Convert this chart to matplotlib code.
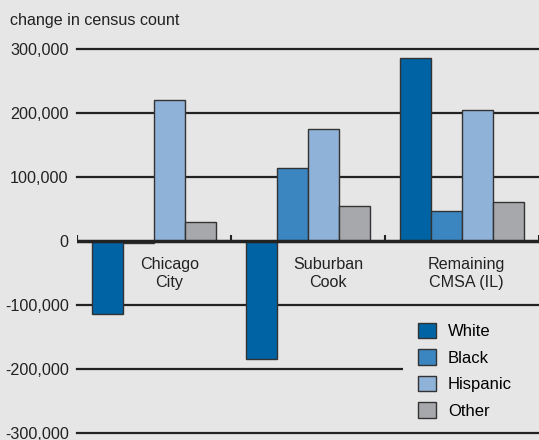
import numpy as np
import matplotlib.pyplot as plt

regions = ['Chicago\nCity', 'Suburban\nCook', 'Remaining\nCMSA (IL)']
groups = ['White', 'Black', 'Hispanic', 'Other']
white = [-114000, -185000, 286000]
black = [-3000, 114000, 47000]
hispanic = [220000, 175000, 204000]
other = [29000, 55000, 61000]
colors = ['#0063a3', '#3b86c1', '#8fb2d9', '#a7a8ac']
yticks = [-300000, -200000, -100000, 0, 100000, 200000, 300000]
label_shift = [0.1, 0.13, 0.03]  # labels sit a bit right of group centres

plt.rcParams['font.family'] = ['Liberation Sans', 'DejaVu Sans']
bg = '#e6e6e6'
ink = '#222222'

fig = plt.figure(figsize=(5.39, 4.40), dpi=100, facecolor=bg)
ax = fig.add_axes([77/539, 7/440, 462/539, 384/440])
ax.set_facecolor(bg)

x = np.arange(len(regions))
w = 0.2
for i, (vals, c, name) in enumerate(zip([white, black, hispanic, other], colors, groups)):
    ax.bar(x + (i - 1.5)*w, vals, w, color=c, edgecolor='#333333', lw=1,
           label=name, zorder=3)

for t in yticks:
    if t != 0:
        # bottom line stays on top of the legend box
        ax.axhline(t, color=ink, lw=1.6, zorder=6 if t == yticks[0] else 1,
                   clip_on=False)
ax.axhline(0, color=ink, lw=2.5, zorder=4)
ax.vlines(np.arange(len(regions) + 1) - 0.5, 0, 9000, color=ink, lw=1.5, zorder=4)

ax.set_xlim(-0.5, len(regions) - 0.5)
ax.set_ylim(-300000, 300000)
ax.set_xticks([])
ax.set_yticks(yticks)
ax.set_yticklabels([f'{v:,}' for v in yticks], fontsize=11.6, color=ink)
ax.tick_params(axis='y', length=0, pad=6)
for s in ax.spines.values():
    s.set_visible(False)

for xi, r, dx in zip(x, regions, label_shift):
    ax.text(xi + dx, -24500, r, ha='center', va='top', fontsize=11.6,
            linespacing=1.3, color=ink)

fig.text(10/539, 1 - 21/440, 'change in census count', ha='left', va='center',
         fontsize=11.6, color=ink)

leg_top = 1 - 308/440
leg = ax.legend(loc='upper left', bbox_to_anchor=(403/539, leg_top - 0.2, 136/539, 0.2),
                bbox_transform=fig.transFigure, mode='expand', frameon=True,
                fontsize=12, handlelength=1.05, handleheight=1.05, labelspacing=0.6,
                handletextpad=0.75, borderpad=0.9, borderaxespad=0)
leg.get_frame().set_facecolor(bg)
leg.get_frame().set_edgecolor('none')
leg.get_frame().set_alpha(1)
leg.set_zorder(5)

fig.savefig('out.png', dpi=100, facecolor=bg)
